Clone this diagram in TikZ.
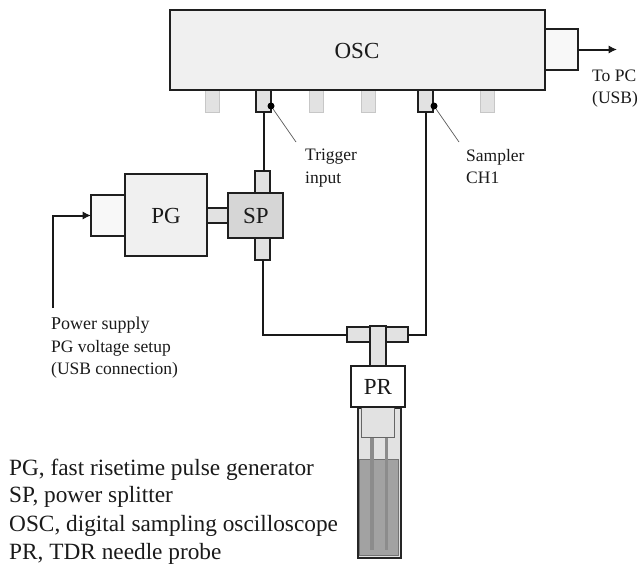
\documentclass[tikz,border=0pt]{standalone}
\usepackage{fontspec}
\setmainfont{Liberation Serif}
\usetikzlibrary{arrows.meta}
\definecolor{boxfill}{HTML}{F0F0F0}
\definecolor{plugfill}{HTML}{F8F8F8}
\definecolor{stubfill}{HTML}{E2E2E2}
\definecolor{spfill}{HTML}{D6D6D6}
\definecolor{liquid}{HTML}{A2A2A2}
\definecolor{needle}{HTML}{8C8C8C}
\definecolor{txt}{HTML}{1A1A1A}
\tikzset{
  x=1pt,y=-1pt,
  blk/.style={draw=black!88,line width=1.7pt,fill=#1,inner sep=0pt,outer sep=0pt},
  wire/.style={draw=black!90,line width=2pt,line join=miter},
  arrowwire/.style={wire,-{Latex[length=8.5pt,width=8.5pt]}},
  idle/.style={draw=black!22,line width=1.4pt,fill=stubfill},
  leader/.style={draw=black!65,line width=0.7pt},
  big/.style={font=\fontsize{23}{26}\selectfont,text=txt,inner sep=0pt},
  small/.style={font=\fontsize{17.5}{22.5}\selectfont,text=txt,inner sep=0pt,align=left,anchor=north west},
  legendline/.style={font=\fontsize{23.3}{26}\selectfont,text=txt,inner sep=0pt,anchor=base west},
  dotn/.style={circle,fill=black,inner sep=0pt,minimum size=7pt}
}
\newcommand{\rbox}[6]{\node[blk=#6,#5,minimum width=#3pt,minimum height=#4pt,anchor=north west] (#1) at #2 {};}
\begin{document}
\begin{tikzpicture}
\useasboundingbox (0,0) rectangle (640,565);
% idle ports
\foreach \n/\px in {pa/205,pb/309,pc/361,pd/480}
  \node[idle,minimum width=14pt,minimum height=22pt,inner sep=0pt,anchor=north west] (\n) at (\px,90) {};
% scope and USB plug
\rbox{usb}{(545,29)}{33}{41}{}{plugfill}
\rbox{osc}{(170,10)}{375}{80}{}{boxfill}
\node[big] (osclabel) at (357,51) {OSC};
\rbox{trig}{(256,90)}{15}{22}{}{stubfill}
\rbox{samp}{(418,90)}{15}{22}{}{stubfill}
\coordinate (pcend) at (617,49);
\draw[arrowwire] (usb.east) -- (usb.east -| pcend);
\node[small] (pclabel) at (592,69.5) {To PC\\(USB)};
% PG, SP
\rbox{plug}{(91,195)}{34}{41}{}{plugfill}
\rbox{pg}{(125,174)}{82}{82}{}{boxfill}
\node[big] (pglabel) at (166,216) {PG};
\rbox{link}{(207,208)}{21}{15}{}{stubfill}
\rbox{sptop}{(255,171)}{15}{22}{}{stubfill}
\rbox{spbot}{(255,238)}{15}{22}{}{stubfill}
\rbox{sp}{(228,193)}{55}{45}{}{spfill}
\node[big] (splabel) at (256,216) {SP};
% probe tube
\node[draw=black!85,line width=1.7pt,fill=stubfill,minimum width=43pt,minimum height=150pt,inner sep=0pt,anchor=north west] (tube) at (357,407) {};
\node[fill=liquid,draw=black!55,line width=0.7pt,minimum width=39pt,minimum height=96pt,inner sep=0pt,anchor=north west] (liq) at (359,459) {};
\node[draw=black!60,line width=1.4pt,fill=stubfill,minimum width=33pt,minimum height=30pt,inner sep=0pt,anchor=north west] (holder) at (361,407) {};
\coordinate (n1a) at (372,438);\coordinate (n1b) at (372,550);
\coordinate (n2a) at (386.5,438);\coordinate (n2b) at (386.5,550);
\draw[needle,line width=3.6pt] (n1a) -- (n1b);
\draw[needle,line width=3.6pt] (n2a) -- (n2b);
% T
\rbox{tee}{(347,327)}{61}{15}{}{stubfill}
\rbox{stem}{(370,326)}{16}{40}{}{stubfill}
\rbox{pr}{(351,366)}{54}{41}{}{white}
\node[big] (prlabel) at (378,387) {PR};
% wires
\draw[wire] (trig.south) -- (trig.south |- sptop.north);
\draw[wire] (spbot.south) |- (tee.west);
\draw[wire] (tee.east) -| (samp.south);
\coordinate (ps) at (53,308);
\draw[arrowwire] (ps) |- (plug.west);
% leaders
\node[dotn] (d1) at (271,106) {};
\node[dotn] (d2) at (434,106) {};
\coordinate (l1) at (296,142);
\coordinate (l2) at (459,142);
\draw[leader] (d1) -- (l1);
\draw[leader] (d2) -- (l2);
\node[small] (tl) at (305,149) {Trigger\\input};
\node[small] (sl) at (466,149) {Sampler\\CH1};
\node[small] (psl) at (51,317) {\fontsize{18}{22.8}\selectfont Power supply\\PG voltage setup\\(USB connection)};
% legend
\node[legendline] (k1) at (9,475) {PG, fast risetime pulse generator};
\node[legendline] (k2) at (9,502) {SP, power splitter};
\node[legendline] (k3) at (9,531) {OSC, digital sampling oscilloscope};
\node[legendline] (k4) at (9,559) {PR, TDR needle probe};
\end{tikzpicture}
\end{document}
